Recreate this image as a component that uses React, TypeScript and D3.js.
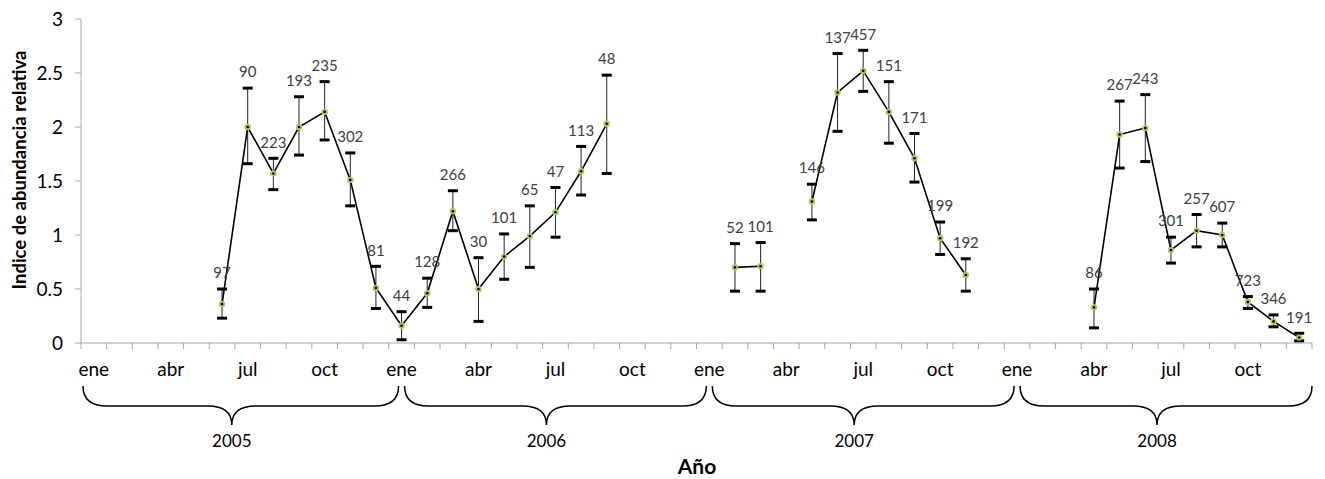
import React from "react";
import * as d3 from "d3";

// ---- data (one entry per month, Jan 2005 .. Dec 2008; null = no sample) ----
const years = ["2005", "2006", "2007", "2008"];
const monthNames = ["ene", "feb", "mar", "abr", "may", "jun", "jul", "ago", "sep", "oct", "nov", "dic"];
const yTicks = [0, 0.5, 1, 1.5, 2, 2.5, 3];

const indice: (number | null)[] = [
  null, null, null, null, null, 0.36, 2.0, 1.57, 2.0, 2.14, 1.51, 0.51,
  0.16, 0.46, 1.22, 0.5, 0.8, 0.99, 1.21, 1.59, 2.03, null, null, null,
  null, 0.7, 0.71, null, 1.31, 2.32, 2.52, 2.14, 1.71, 0.97, 0.63, null,
  null, null, null, 0.33, 1.93, 1.99, 0.86, 1.04, 1.0, 0.38, 0.2, 0.05,
];
const lower: (number | null)[] = [
  null, null, null, null, null, 0.23, 1.66, 1.42, 1.74, 1.88, 1.27, 0.32,
  0.03, 0.33, 1.04, 0.2, 0.59, 0.7, 0.98, 1.37, 1.57, null, null, null,
  null, 0.48, 0.48, null, 1.14, 1.96, 2.33, 1.85, 1.49, 0.82, 0.48, null,
  null, null, null, 0.14, 1.62, 1.68, 0.74, 0.89, 0.89, 0.32, 0.15, 0.02,
];
const upper: (number | null)[] = [
  null, null, null, null, null, 0.5, 2.36, 1.71, 2.28, 2.42, 1.76, 0.71,
  0.29, 0.6, 1.41, 0.79, 1.01, 1.27, 1.44, 1.82, 2.48, null, null, null,
  null, 0.92, 0.93, null, 1.47, 2.68, 2.71, 2.42, 1.94, 1.12, 0.78, null,
  null, null, null, 0.5, 2.24, 2.3, 0.98, 1.19, 1.11, 0.43, 0.26, 0.09,
];
const nMuestras: (number | null)[] = [
  null, null, null, null, null, 97, 90, 223, 193, 235, 302, 81,
  44, 128, 266, 30, 101, 65, 47, 113, 48, null, null, null,
  null, 52, 101, null, 146, 137, 457, 151, 171, 199, 192, null,
  null, null, null, 86, 267, 243, 301, 257, 607, 723, 346, 191,
];

const FONT = "Lato, 'Open Sans', sans-serif";

export default function App() {
  const W = 1325, H = 479;
  const left = 81, right = 1312, top = 19, bottom = 343;
  const idx = d3.range(indice.length);
  const x = d3.scaleBand<number>().domain(idx).range([left, right]).padding(0);
  const bw = x.bandwidth();
  const cx = (i: number) => (x(i) as number) + bw / 2;
  const y = d3.scaleLinear().domain([0, 3]).range([bottom, top]);

  const line = d3
    .line<number>()
    .defined((i) => indice[i] != null)
    .x((i) => cx(i))
    .y((i) => y(indice[i] as number));

  const present = idx.filter((i) => indice[i] != null);
  const monthLabelIdx = idx.filter((i) => i % 3 === 0);

  const braceTop = 386, braceMid = 406, braceTip = 425;
  const braces = years.map((yr, k) => {
    const x0 = k === 0 ? left + 2 : cx(k * 12) + 3;
    const x1 = k === years.length - 1 ? right : cx((k + 1) * 12) - 3;
    const xt = (x0 + x1) / 2 - 9;
    const r = 24;
    const d =
      `M${x0},${braceTop} Q${x0},${braceMid} ${x0 + r},${braceMid} ` +
      `L${xt - r},${braceMid} Q${xt},${braceMid} ${xt},${braceTip} ` +
      `Q${xt},${braceMid} ${xt + r},${braceMid} ` +
      `L${x1 - r},${braceMid} Q${x1},${braceMid} ${x1},${braceTop}`;
    return { yr, d, xt };
  });

  const capW = 10;

  return (
    <svg width={W} height={H} style={{ position: "absolute", left: 0, top: 0, background: "#fff" }} fontFamily={FONT}>
      {/* y axis */}
      <line x1={left} x2={left} y1={top} y2={bottom} stroke="#a6a6a6" strokeWidth={1} />
      {yTicks.map((t) => (
        <g key={t}>
          <line x1={left - 6} x2={left} y1={y(t)} y2={y(t)} stroke="#a6a6a6" />
          <text x={63} y={y(t)} dy="0.35em" textAnchor="end" fontSize={19} fill="#000">
            {t}
          </text>
        </g>
      ))}
      <text
        transform={`translate(20,${(top + bottom) / 2 - 11}) rotate(-90)`}
        textAnchor="middle"
        dy="0.35em"
        fontSize={18.5}
        fontWeight="bold"
        fill="#000"
      >
        Indice de abundancia relativa
      </text>

      {/* x axis */}
      <line x1={left} x2={right} y1={bottom} y2={bottom} stroke="#a6a6a6" />
      {d3.range(indice.length + 1).map((i) => {
        const xx = i < indice.length ? (x(i) as number) : right;
        return <line key={i} x1={xx} x2={xx} y1={bottom} y2={bottom + 6} stroke="#a6a6a6" />;
      })}
      {monthLabelIdx.map((i) => (
        <text key={i} x={cx(i)} y={376} textAnchor="middle" fontSize={19} fill="#000">
          {monthNames[i % 12]}
        </text>
      ))}

      {/* braces */}
      {braces.map((b) => (
        <g key={b.yr}>
          <path d={b.d} fill="none" stroke="#000" strokeWidth={1.5} />
          <text x={b.xt} y={447} textAnchor="middle" fontSize={17} fill="#000">
            {b.yr}
          </text>
        </g>
      ))}
      <text x={697} y={474} textAnchor="middle" fontSize={21} fontWeight="bold" fill="#000">
        Año
      </text>

      {/* error bars */}
      {present.map((i) => (
        <g key={"e" + i}>
          <line x1={cx(i)} x2={cx(i)} y1={y(lower[i] as number)} y2={y(upper[i] as number)} stroke="#222" strokeWidth={1} />
          <line x1={cx(i) - capW / 2} x2={cx(i) + capW / 2} y1={y(upper[i] as number)} y2={y(upper[i] as number)} stroke="#000" strokeWidth={3} />
          <line x1={cx(i) - capW / 2} x2={cx(i) + capW / 2} y1={y(lower[i] as number)} y2={y(lower[i] as number)} stroke="#000" strokeWidth={3} />
        </g>
      ))}

      {/* line */}
      <path d={line(idx) || ""} fill="none" stroke="#000" strokeWidth={1.6} />

      {/* markers */}
      {present.map((i) => (
        <g key={"m" + i}>
          <circle cx={cx(i)} cy={y(indice[i] as number)} r={3.2} fill="#a8c864" />
          <circle cx={cx(i)} cy={y(indice[i] as number)} r={1.3} fill="#000" />
        </g>
      ))}

      {/* data labels */}
      {present.map((i) => (
        <text key={"l" + i} x={cx(i)} y={y(upper[i] as number) - 16} dy="0.35em" textAnchor="middle" fontSize={15} fill="#404040">
          {nMuestras[i]}
        </text>
      ))}
    </svg>
  );
}
